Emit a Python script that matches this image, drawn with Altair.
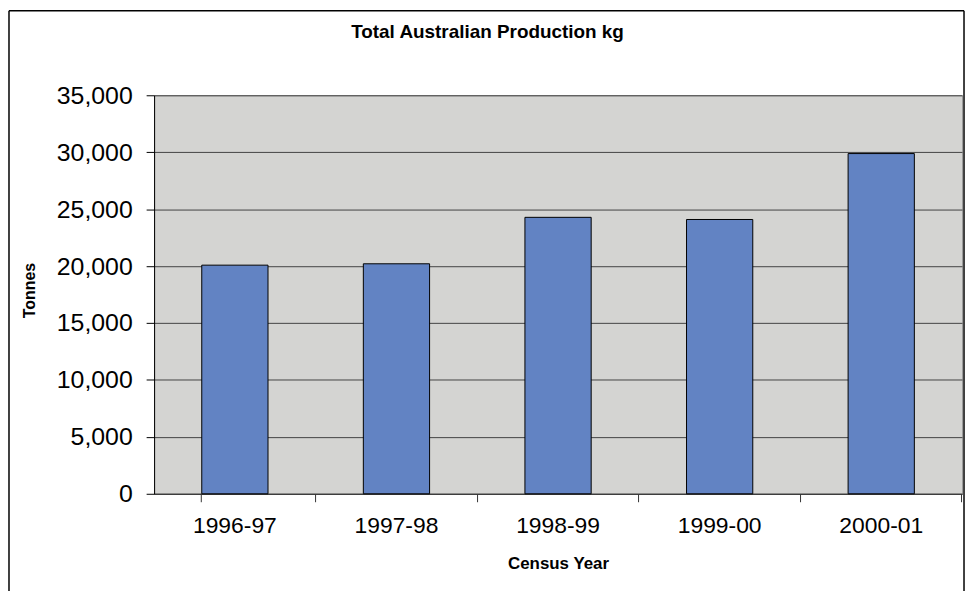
import altair as alt
import pandas as pd

years = ["1996-97", "1997-98", "1998-99", "1999-00", "2000-01"]
tonnes = [20080, 20200, 24280, 24090, 29880]
y_ticks = [0, 5000, 10000, 15000, 20000, 25000, 30000, 35000]

df = pd.DataFrame({"year": years, "tonnes": tonnes})
FONT = "Liberation Sans"

bars = alt.Chart(df).mark_bar(color="#6283c3", stroke="black", strokeWidth=1).encode(
    x=alt.X(
        "year:N",
        sort=years,
        scale=alt.Scale(paddingInner=0.59, paddingOuter=0.295),
        axis=alt.Axis(
            title="Census Year",
            labelAngle=0,
            bandPosition=1.7195,
            tickExtra=True,
            tickSize=8,
            tickColor="#333333",
            domainColor="#333333",
            labelFont=FONT,
            labelFontSize=23,
            labelColor="black",
            labelPadding=13,
            titleFont=FONT,
            titleFontSize=17,
            titleFontWeight="bold",
            titleColor="black",
            titleBaseline="top",
            titleY=62,
            grid=False,
        ),
    ),
    y=alt.Y(
        "tonnes:Q",
        scale=alt.Scale(domain=[0, 35000], nice=False),
        axis=alt.Axis(
            values=y_ticks,
            format=",.0f",
            title="Tonnes",
            grid=True,
            gridColor="#444444",
            gridWidth=1,
            tickSize=8,
            tickColor="black",
            domainColor="black",
            labelFont=FONT,
            labelFontSize=25,
            labelColor="black",
            labelPadding=14,
            titleFont=FONT,
            titleFontSize=16,
            titleFontWeight="bold",
            titleColor="black",
            titleAngle=270,
            titleAlign="center",
            titleBaseline="middle",
            titleX=-125,
            titleY=196,
        ),
    ),
)

frame = pd.DataFrame({"k": [0]})
left_edge = alt.Chart(frame).mark_rule(color="black", strokeWidth=1.5).encode(
    x=alt.value(-146), y=alt.value(-85), y2=alt.value(520)
)
top_edge = alt.Chart(frame).mark_rule(color="black", strokeWidth=1.5).encode(
    x=alt.value(-146), x2=alt.value(815), y=alt.value(-85)
)
right_edge = alt.Chart(frame).mark_rule(color="black", strokeWidth=1.5).encode(
    x=alt.value(815), y=alt.value(-85), y2=alt.value(520)
)

chart = alt.layer(bars, left_edge, top_edge, right_edge).properties(
    width=813,
    height=401,
    background="white",
    autosize=alt.AutoSizeParams(type="none"),
    padding={"left": 147, "top": 86, "right": 4, "bottom": 96},
    title=alt.TitleParams(
        "Total Australian Production kg",
        font=FONT,
        fontSize=19,
        fontWeight="bold",
        color="black",
        anchor="middle",
        dx=-71,
        dy=32,
        offset=0,
    ),
).configure_view(
    fill="#d4d4d2", stroke="#999999", strokeWidth=1
)

chart.save("out.html", embed_options={"renderer": "svg", "actions": False})
